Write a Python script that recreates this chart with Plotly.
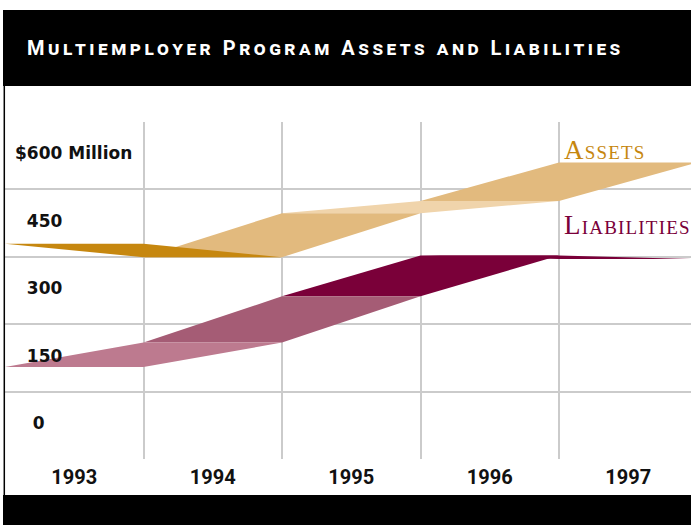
import plotly.graph_objects as go

# ---- data ($ millions) ----
years = [1993, 1994, 1995, 1996, 1997]
year_labels = ["1993", "1994", "1995", "1996", "1997"]
assets = [479, 449, 547, 574, 660]
liabilities = [205, 259, 362, 453, 445]
y_levels = [0, 150, 300, 450, 600]
y_labels = ["0", "150", "300", "450", "$600 Million"]

# one shade per year-to-year ribbon segment
assets_colors = ["#C6870F", "#E2BA7E", "#F0D4AB", "#E2BA7E"]
liab_colors = ["#BD7A8F", "#A55C75", "#7A0039", "#7A0039"]

GOLD = "#C6870F"
MAROON = "#7A0039"
GRID = "#CBCBCB"

W, H = 691, 525
ML, MR, MT, MB = 5, 0, 122, 66
PLOT_W = W - ML - MR
PLOT_H = H - MT - MB
COL_W = 138.5  # pixels per year column


def px_x(px):
    return (px - ML) / PLOT_W


def px_y(py):
    return (H - MB - py) / PLOT_H


def ribbon(values, colors):
    """Twisted ribbon: each segment is a parallelogram spanning two year columns."""
    traces = []
    # later segments first so the earlier ones sit in front
    for k in range(len(values) - 1, 0, -1):
        v0, v1 = values[k - 1], values[k]
        left = years[k - 1] - 0.5
        mid = years[k] - 0.5
        right = years[k] + 0.5
        traces.append(go.Scatter(
            x=[left, mid, right, mid, left],
            y=[v0, v1, v1, v0, v0],
            mode="lines", fill="toself", fillcolor=colors[k - 1],
            line=dict(width=0), hoverinfo="skip", showlegend=False,
        ))
    return traces


fig = go.Figure()
for t in ribbon(liabilities, liab_colors):
    fig.add_trace(t)
for t in ribbon(assets, assets_colors):
    fig.add_trace(t)

# value labels sit in the band just above each gridline
pad = {"0": "\u00a0" * 3, "$600 Million": ""}
value_annotations = [
    dict(xref="paper", yref="y", x=px_x(13), y=v + 80,
         xanchor="left", yanchor="middle", showarrow=False,
         text=pad.get(s, "\u00a0" * 2) + s,
         font=dict(family="DejaVu Sans", size=17, color="#111", weight="bold"))
    for v, s in zip(y_levels, y_labels)
]

fig.update_layout(
    width=W, height=H, autosize=False,
    margin=dict(l=ML, r=MR, t=MT, b=MB, pad=0),
    paper_bgcolor="white", plot_bgcolor="white",
    showlegend=False,
    xaxis=dict(
        range=[years[0] - 0.5, years[0] - 0.5 + PLOT_W / COL_W],
        tickvals=years, ticktext=year_labels, ticklabelstandoff=4,
        showgrid=False, zeroline=False, showline=False, ticks="",
        tickfont=dict(family="Roboto", size=20, color="#111", weight="bold"),
        minor=dict(tickvals=[y + 0.5 for y in years[:-1]], showgrid=True,
                   gridcolor=GRID, gridwidth=1.5, ticks=""),
        fixedrange=True,
    ),
    yaxis=dict(
        range=[0, 750],
        showticklabels=False,
        showgrid=False, zeroline=False, showline=False, ticks="",
        minor=dict(tickvals=y_levels[1:], showgrid=True,
                   gridcolor=GRID, gridwidth=1.5, ticks=""),
        fixedrange=True,
    ),
    shapes=[
        # title band
        dict(type="rect", xref="paper", yref="paper", layer="below",
             x0=px_x(3), x1=px_x(W + 2), y0=px_y(86), y1=px_y(10),
             fillcolor="black", line=dict(width=0)),
        # footer band
        dict(type="rect", xref="paper", yref="paper", layer="below",
             x0=px_x(3), x1=px_x(W + 2), y0=px_y(H + 2), y1=px_y(495),
             fillcolor="black", line=dict(width=0)),
        # left rule
        dict(type="line", xref="paper", yref="paper",
             x0=px_x(4.3), x1=px_x(4.3), y0=px_y(86), y1=px_y(495),
             line=dict(color="black", width=1.5)),
    ],
    annotations=value_annotations + [
        dict(xref="paper", yref="paper", x=px_x(25), y=px_y(48),
             xanchor="left", yanchor="middle", showarrow=False,
             text='<span style="letter-spacing:3.5px">Multiemployer Program Assets and Liabilities</span>',
             font=dict(family="Roboto", size=20, color="white", weight="bold",
                       variant="small-caps")),
        dict(x=years[-1] - 0.5, y=assets[-1], xref="x", yref="y",
             xanchor="left", yanchor="bottom", xshift=3, yshift=-5, showarrow=False,
             text='<span style="letter-spacing:1.2px">Assets</span>',
             font=dict(family="Liberation Serif", size=27, color=GOLD,
                       variant="small-caps")),
        dict(x=years[-1] - 0.5, y=liabilities[-1], xref="x", yref="y",
             xanchor="left", yanchor="bottom", xshift=3, yshift=17, showarrow=False,
             text='<span style="letter-spacing:1.2px">Liabilities</span>',
             font=dict(family="Liberation Serif", size=27, color=MAROON,
                       variant="small-caps")),
    ],
)

fig.write_html("out.html")
